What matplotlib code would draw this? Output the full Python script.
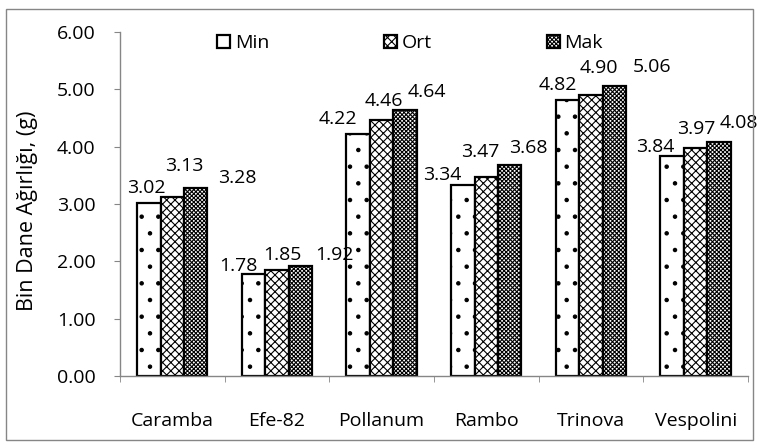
import matplotlib
matplotlib.use("Agg")
import matplotlib.pyplot as plt
from matplotlib.patches import Rectangle
import numpy as np

plt.rcParams['font.family'] = ['Open Sans', 'DejaVu Sans']
plt.rcParams['hatch.linewidth'] = 0.8

# data
cultivars = ['Caramba', 'Efe-82', 'Pollanum', 'Rambo', 'Trinova', 'Vespolini']
series = ['Min', 'Ort', 'Mak']
min_vals = [3.02, 1.78, 4.22, 3.34, 4.82, 3.84]
ort_vals = [3.13, 1.85, 4.46, 3.47, 4.90, 3.97]
mak_vals = [3.28, 1.92, 4.64, 3.68, 5.06, 4.08]

# label offsets (pixels from bar top centre) - the labels in the original are scattered
min_off = [(-2, 15), (-15, 8), (-20, 15), (-21, 10), (-10, 15), (-17, 9)]
ort_off = [(12, 31), (5, 15), (2, 19), (-6, 25), (8, 27), (1, 19)]
mak_off = [(42, 10), (34, 11), (22, 18), (19, 17), (38, 19), (20, 19)]

hatches = ['.', 'xxxx', 'xxxxxxxx']

fig = plt.figure(figsize=(7.59, 4.48), dpi=100)
ax = fig.add_axes([0.158, 0.1607, 0.8275, 0.7679])

x = np.arange(len(cultivars))
w = 0.224
for i, (vals, offs) in enumerate(zip([min_vals, ort_vals, mak_vals], [min_off, ort_off, mak_off])):
    b = ax.bar(x + (i - 1) * w, vals, w, color='white', edgecolor='black',
               hatch=hatches[i], linewidth=1.6, label=series[i])
    for rect, v, (dx, dy) in zip(b, vals, offs):
        ax.annotate('%.2f' % v, (rect.get_x() + rect.get_width() / 2, v),
                    xytext=(dx, dy), textcoords='offset pixels',
                    ha='center', va='center', fontsize=14)

ax.set_ylim(0, 6)
ax.set_xlim(-0.5, 5.5)
ax.set_yticks(np.arange(0, 7, 1))
ax.set_yticklabels(['%.2f' % t for t in np.arange(0, 7, 1)], fontsize=14)
ax.set_xticks(x)
ax.set_xticklabels(cultivars, fontsize=14)
ax.set_xticks(np.arange(-0.5, 6, 1), minor=True)
ax.tick_params(axis='x', which='major', length=0, pad=26)
ax.tick_params(axis='x', which='minor', length=4.5, color='#868686', direction='out')
ax.tick_params(axis='y', length=4.5, color='#868686', pad=13)

for s in ['top', 'right']:
    ax.spines[s].set_visible(False)
for s in ['left', 'bottom']:
    ax.spines[s].set_color('#868686')
    ax.spines[s].set_linewidth(1.0)

ax.set_ylabel('Bin Dane Ağırlığı, (g)', fontsize=15.5)
ax.yaxis.set_label_coords(-0.13, 0.48)

leg = ax.legend(loc='center', bbox_to_anchor=(0.540, 0.904), bbox_transform=fig.transFigure,
                ncol=3, frameon=False, fontsize=14, handlelength=0.67, handleheight=0.67,
                handletextpad=0.25, columnspacing=5.9)

fig.patches.append(Rectangle((6 / 759, 1 - 440 / 448), 747 / 759, 431 / 448,
                             transform=fig.transFigure, fill=False,
                             edgecolor='#868686', linewidth=1.0))

fig.savefig('out.png', dpi=100)
